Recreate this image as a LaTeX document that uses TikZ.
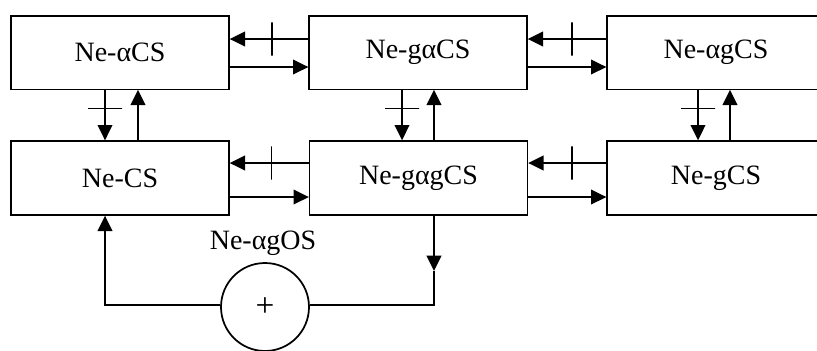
\documentclass[tikz,border=0pt]{standalone}
\usepackage{fontspec}
\setmainfont{Liberation Serif}
\usetikzlibrary{arrows.meta,calc}
\tikzset{
  box/.style={draw, line width=1pt, minimum width=163.5pt, minimum height=55pt, inner sep=0pt, font=\fontsize{21}{24}\selectfont},
  arr/.style={line width=1.5pt, -{Triangle[length=11.5pt,width=11pt]}},
  ln/.style={line width=1.5pt},
  vtick/.style={draw, line width=1.2pt, inner sep=0pt, outer sep=0pt, minimum width=0pt, minimum height=25pt},
  htick/.style={draw, line width=1.2pt, inner sep=0pt, outer sep=0pt, minimum height=0pt, minimum width=25.5pt},
}
\begin{document}
\begin{tikzpicture}[x=0.75pt,y=-0.75pt]
\useasboundingbox (0,0) rectangle (817,350);
\clip (0,0) rectangle (817,350);
% boxes
\node[box] (b1) at (120,52.5) {Ne-αCS};
\node[box] (b2) at (418,52.5) {Ne-gαCS};
\node[box] (b3) at (716,52.5) {Ne-αgCS};
\node[box, minimum height=55.5pt] (b4) at (120,178) {Ne-CS};
\node[box, minimum height=55.5pt] (b5) at (418.5,178) {Ne-gαgCS};
\node[box, minimum height=55.5pt] (b6) at (716,178) {Ne-gCS};
% row 1 horizontals
\draw[arr] (b2.west |- 0,39) -- node[vtick, pos=0.46]{} (b1.east |- 0,39);
\draw[arr] (b1.east |- 0,67) -- (b2.west |- 0,67);
\draw[arr] (b3.west |- 0,39) -- node[vtick, pos=0.44]{} (b2.east |- 0,39);
\draw[arr] (b2.east |- 0,67) -- (b3.west |- 0,67);
% row 2 horizontals
\draw[arr] (b5.west |- 0,163) -- node[vtick, pos=0.47]{} (b4.east |- 0,163);
\draw[arr] (b4.east |- 0,197) -- (b5.west |- 0,197);
\draw[arr] (b6.west |- 0,163) -- node[vtick, pos=0.44]{} (b5.east |- 0,163);
\draw[arr] (b5.east |- 0,197) -- (b6.west |- 0,197);
% verticals
\draw[arr] (b1.south -| 105,0) -- node[htick, pos=0.37]{} (b4.north -| 105,0);
\draw[arr] (b4.north -| 138,0) -- (b1.south -| 138,0);
\draw[arr] (b2.south -| 402,0) -- node[htick, pos=0.37]{} (b5.north -| 402,0);
\draw[arr] (b5.north -| 434,0) -- (b2.south -| 434,0);
\draw[arr] (b3.south -| 698,0) -- node[htick, pos=0.37]{} (b6.north -| 698,0);
\draw[arr] (b6.north -| 730,0) -- (b3.south -| 730,0);
% bottom loop
\node[circle, draw, line width=1.3pt, minimum size=66pt, inner sep=0pt, font=\fontsize{25}{28}\selectfont] (sum) at (265,307) {+};
\node[font=\fontsize{21}{24}\selectfont] (lab) at (263,243) {Ne-αgOS};
\coordinate (mid) at (434,271);
\coordinate (corner) at (434,305);
\draw[arr] (b5.south -| 434,0) -- (mid);
\draw[ln] (mid) -- (corner) -- (sum.east |- corner);
\draw[arr] (sum.west |- corner) -| (b4.south -| 105,0);
\end{tikzpicture}
\end{document}
